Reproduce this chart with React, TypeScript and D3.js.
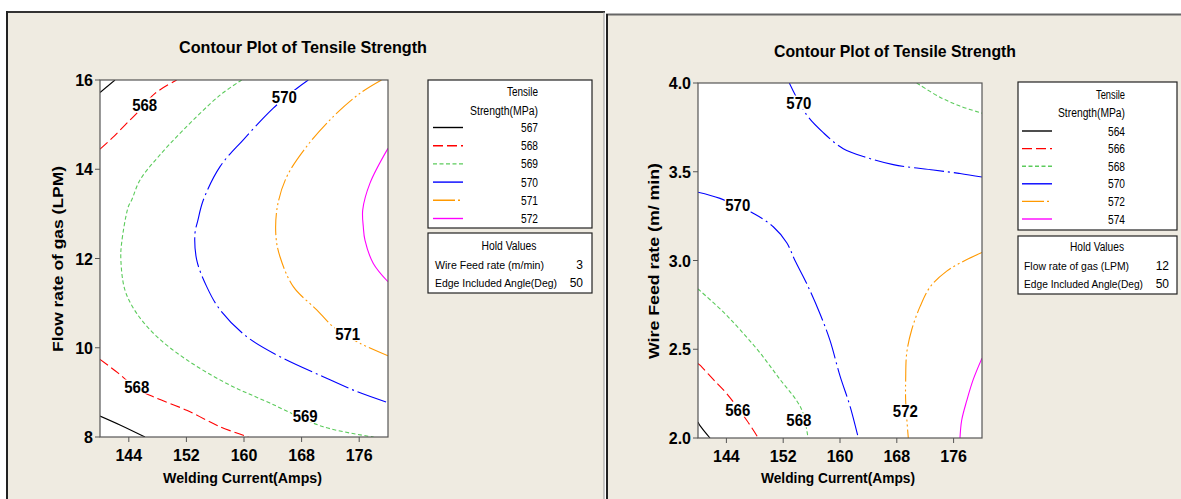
import React from 'react';
import * as d3 from 'd3';

// ---------- data ----------
const currentTicks = [144, 152, 160, 168, 176];
const flowTicks = [8, 10, 12, 14, 16];
const wireTicks = [2.0, 2.5, 3.0, 3.5, 4.0];
const leftLevels = [567, 568, 569, 570, 571, 572];
const rightLevels = [564, 566, 568, 570, 572, 574];
const levelColors = ['#000000', '#FF0000', '#5CCB5C', '#0000FF', '#FF9900', '#FF00FF'];
const levelDashes = ['none', '10,4', '4,2.5', '30,4,2,4', '22,3,2,3,2,3', 'none'];

// Left plot: Welding current vs flow rate of gas (hold wire feed 3, angle 50)
const L567a = [[140, 15.72], [142.08, 16]];
const L567b = [[140, 8.47], [142.78, 8.27], [146.25, 8]];
const L568a = [[140, 14.45], [141.63, 14.69], [143.47, 14.99], [145.1, 15.25], [147.64, 15.7], [150.65, 16]];
const L568b = [[140, 9.74], [142.54, 9.43], [145.1, 9.09], [147.4, 8.9], [152.04, 8.6], [156.67, 8.23], [160.6, 8.0]];
const L569 = [[159.68, 16], [156.67, 15.66], [151.57, 14.88], [148.1, 14.28], [145.56, 13.76], [144.4, 13.31], [143.93, 13.16], [143.0, 12.34], [142.9, 11.97], [143.47, 11.29], [145.1, 10.77], [147.9, 10.25], [152.04, 9.73], [157.6, 9.2], [163.6, 8.76], [171.0, 8.23], [178.0, 8.0]];
const L570 = [[168.93, 16], [167.32, 15.81], [164.07, 15.37], [159.9, 14.66], [156.67, 14.06], [154.35, 13.31], [153.6, 12.86], [153.19, 12.56], [153.43, 11.97], [154.82, 11.37], [156.67, 10.85], [160.37, 10.25], [165.0, 9.8], [171.0, 9.35], [175.65, 9.02], [180, 8.77]];
const L571 = [[179.1, 16], [176.1, 15.7], [172.4, 15.18], [168.7, 14.51], [165.93, 13.83], [164.63, 13.16], [164.44, 12.49], [165.0, 12.04], [166.85, 11.37], [170.1, 10.85], [172.4, 10.47], [176.1, 10.1], [180, 9.82]];
const L572 = [[180, 14.47], [177.5, 13.69], [176.49, 13.09], [176.57, 12.71], [176.8, 12.41], [177.96, 11.89], [180, 11.48]];

// Right plot: Welding current vs wire feed rate (hold flow 12, angle 50)
const R564 = [[140, 2.09], [140.28, 2.07], [141.69, 2.0]];
const R566 = [[140, 2.42], [140.28, 2.41], [142.15, 2.33], [144.04, 2.25], [146.86, 2.1], [148.49, 2.0]];
const R568a = [[140, 2.84], [140.28, 2.83], [143.56, 2.71], [145.92, 2.61], [148.73, 2.48], [151.55, 2.33], [153.9, 2.21], [154.8, 2.14], [155.5, 2.0]];
const R568b = [[170.8, 4.0], [174.08, 3.92], [176.9, 3.87], [180, 3.83]];
const R570a = [[152.86, 4.0], [155.31, 3.82], [157.65, 3.72], [160.46, 3.63], [163.76, 3.58], [167.5, 3.54], [173.14, 3.51], [176.9, 3.49], [180, 3.47]];
const R570b = [[140, 3.385], [143.1, 3.35], [148.03, 3.26], [150.6, 3.19], [152.5, 3.1], [153.66, 3.0], [155.31, 2.87], [157.18, 2.7], [158.59, 2.55], [160.0, 2.35], [161.41, 2.18], [162.58, 2.0]];
const R572 = [[180, 3.045], [177.6, 3.0], [175.03, 2.94], [172.68, 2.85], [171.27, 2.74], [170.1, 2.61], [169.4, 2.48], [169.25, 2.33], [169.25, 2.21], [169.62, 2.0]];
const R574 = [[180, 2.45], [178.77, 2.33], [177.85, 2.21], [177.14, 2.1], [176.9, 2.0]];

const leftLabels = [
  { level: 568, x: 146.2, y: 15.45 },
  { level: 570, x: 165.6, y: 15.62 },
  { level: 571, x: 174.4, y: 10.31 },
  { level: 568, x: 145.1, y: 9.13 },
  { level: 569, x: 168.5, y: 8.48 },
];
const rightLabels = [
  { level: 570, x: 154.2, y: 3.89 },
  { level: 570, x: 145.6, y: 3.31 },
  { level: 566, x: 145.6, y: 2.16 },
  { level: 568, x: 154.2, y: 2.1 },
  { level: 572, x: 169.2, y: 2.15 },
];

const leftHold = [['Wire Feed rate (m/min)', '3'], ['Edge Included Angle(Deg)', '50']];
const rightHold = [['Flow rate of gas (LPM)', '12'], ['Edge Included Angle(Deg)', '50']];

const FONT = "'Liberation Sans', Arial, sans-serif";
const BG = '#EFEBE1';

const panels = [
  {
    id: 'L',
    x0: 100, x1: 388, y0: 80, y1: 437,
    yDomain: [8, 16], yTicks: flowTicks, yFmt: d3.format('d'),
    contours: [
      { i: 0, pts: L567a }, { i: 0, pts: L567b }, { i: 1, pts: L568a }, { i: 1, pts: L568b },
      { i: 2, pts: L569 }, { i: 3, pts: L570 }, { i: 4, pts: L571 }, { i: 5, pts: L572 },
    ],
    labels: leftLabels,
    levels: leftLevels,
    hold: leftHold,
    title: { x: 303, y: 53, w: 248 },
    yTitle: { text: 'Flow rate of gas (LPM)', x: 58, y: 259, w: 186 },
    xTitle: { x: 242.5, y: 483, w: 159 },
    leg: { x0: 428, x1: 592, y0: 80, y1: 228, hy0: 233, hy1: 293, textR: 538, lx0: 433, lx1: 463, row0: 127.5, step: 18.2, t1: 96, t2: 115, hv: 249.5, h1: 268.5, h2: 286.5, valR: 583, holdL: 435, holdC: 509,
      wT: 31, wS: 68, wH: 55, wh: [109, 122] },
  },
  {
    id: 'R',
    x0: 698, x1: 982, y0: 83, y1: 438,
    yDomain: [2, 4], yTicks: wireTicks, yFmt: d3.format('.1f'),
    contours: [
      { i: 0, pts: R564 }, { i: 1, pts: R566 }, { i: 2, pts: R568a }, { i: 2, pts: R568b },
      { i: 3, pts: R570a }, { i: 3, pts: R570b }, { i: 4, pts: R572 }, { i: 5, pts: R574 },
    ],
    labels: rightLabels,
    levels: rightLevels,
    hold: rightHold,
    title: { x: 895, y: 57, w: 242 },
    yTitle: { text: 'Wire Feed rate (m/ min)', x: 654, y: 261, w: 196 },
    xTitle: { x: 838, y: 483, w: 154 },
    leg: { x0: 1018, x1: 1177, y0: 82, y1: 230, hy0: 236, hy1: 294, textR: 1125, lx0: 1022, lx1: 1052, row0: 131, step: 17.6, t1: 99, t2: 117, hv: 251, h1: 270, h2: 287.5, valR: 1169, holdL: 1024, holdC: 1097,
      wT: 29, wS: 67, wH: 54, wh: [105, 119] },
  },
];

function Panel({ p }: { p: any }) {
  const xs = d3.scaleLinear().domain([140, 180]).range([p.x0, p.x1]);
  const ys = d3.scaleLinear().domain(p.yDomain).range([p.y1, p.y0]);
  const line = d3
    .line<number[]>()
    .x((d) => xs(d[0]))
    .y((d) => ys(d[1]))
    .curve(d3.curveCatmullRom.alpha(0.5));
  const L = p.leg;
  const lt = { fontFamily: FONT, fontSize: 12, lengthAdjust: 'spacingAndGlyphs' as const };
  const ht = { fontFamily: FONT, fontSize: 11, lengthAdjust: 'spacingAndGlyphs' as const };
  return (
    <g>
      <defs>
        <clipPath id={'clip' + p.id}>
          <rect x={p.x0} y={p.y0} width={p.x1 - p.x0} height={p.y1 - p.y0} />
        </clipPath>
      </defs>
      <text x={p.title.x} y={p.title.y} textAnchor="middle" fontFamily={FONT} fontWeight="bold" fontSize={17}
        textLength={p.title.w} lengthAdjust="spacingAndGlyphs">Contour Plot of Tensile Strength</text>
      <rect x={p.x0} y={p.y0} width={p.x1 - p.x0} height={p.y1 - p.y0} fill="#FFFFFF" />
      <g clipPath={`url(#clip${p.id})`}>
        {p.contours.map((c: any, k: number) => (
          <path key={k} d={line(c.pts) || ''} fill="none" stroke={levelColors[c.i]} strokeWidth={1.1}
            strokeDasharray={levelDashes[c.i]} />
        ))}
        {p.labels.map((l: any, k: number) => (
          <g key={k}>
            <rect x={xs(l.x) - 13} y={ys(l.y) - 7} width={26} height={14} fill="#FFFFFF" />
            <text x={xs(l.x)} y={ys(l.y) + 6} textAnchor="middle" fontFamily={FONT} fontWeight="bold" fontSize={16}
              textLength={25} lengthAdjust="spacingAndGlyphs">{l.level}</text>
          </g>
        ))}
      </g>
      <rect x={p.x0} y={p.y0} width={p.x1 - p.x0} height={p.y1 - p.y0} fill="none" stroke="#555" strokeWidth={1.2} />
      {currentTicks.map((t) => (
        <g key={'x' + t}>
          <line x1={xs(t)} x2={xs(t)} y1={p.y1} y2={p.y1 + 5} stroke="#555" />
          <text x={xs(t)} y={p.y1 + 24} textAnchor="middle" fontFamily={FONT} fontWeight="bold" fontSize={16}>{t}</text>
        </g>
      ))}
      {p.yTicks.map((t: number) => (
        <g key={'y' + t}>
          <line x1={p.x0 - 5} x2={p.x0} y1={ys(t)} y2={ys(t)} stroke="#555" />
          <text x={p.x0 - 7} y={ys(t) + 6} textAnchor="end" fontFamily={FONT} fontWeight="bold" fontSize={16}>{p.yFmt(t)}</text>
        </g>
      ))}
      <text x={p.xTitle.x} y={p.xTitle.y} textAnchor="middle" fontFamily={FONT} fontWeight="bold" fontSize={15}
        textLength={p.xTitle.w} lengthAdjust="spacingAndGlyphs">Welding Current(Amps)</text>
      <text transform={`translate(${p.yTitle.x + 5},${p.yTitle.y}) rotate(-90)`} textAnchor="middle" fontFamily={FONT}
        fontWeight="bold" fontSize={15} textLength={p.yTitle.w} lengthAdjust="spacingAndGlyphs">{p.yTitle.text}</text>

      {/* legend */}
      <rect x={L.x0} y={L.y0} width={L.x1 - L.x0} height={L.y1 - L.y0} fill="#FFFFFF" stroke="#222" strokeWidth={1.2} />
      <text x={L.textR} y={L.t1} textAnchor="end" {...lt} textLength={L.wT}>Tensile</text>
      <text x={L.textR} y={L.t2} textAnchor="end" {...lt} textLength={L.wS}>Strength(MPa)</text>
      {p.levels.map((lv: number, i: number) => {
        const y = L.row0 + i * L.step;
        return (
          <g key={'lg' + lv}>
            <line x1={L.lx0} x2={L.lx1} y1={y} y2={y} stroke={levelColors[i]} strokeWidth={1.4}
              strokeDasharray={levelDashes[i]} />
            <text x={L.textR} y={y + 4.5} textAnchor="end" fontFamily={FONT} fontSize={12} textLength={17}
              lengthAdjust="spacingAndGlyphs">{lv}</text>
          </g>
        );
      })}
      <rect x={L.x0} y={L.hy0} width={L.x1 - L.x0} height={L.hy1 - L.hy0} fill="#FFFFFF" stroke="#222" strokeWidth={1.2} />
      <text x={L.holdC} y={L.hv} textAnchor="middle" {...lt} textLength={L.wH}>Hold Values</text>
      {p.hold.map((h: string[], i: number) => (
        <g key={'h' + i}>
          <text x={L.holdL} y={i === 0 ? L.h1 : L.h2} {...ht} textLength={L.wh[i]}>{h[0]}</text>
          <text x={L.valR} y={i === 0 ? L.h1 : L.h2} textAnchor="end" fontFamily={FONT} fontSize={12}>{h[1]}</text>
        </g>
      ))}
    </g>
  );
}

export default function App() {
  return (
    <svg width={1181} height={499} style={{ position: 'absolute', left: 0, top: 0, display: 'block' }}>
      <rect x={0} y={0} width={1181} height={499} fill="#FFFFFF" />
      {/* left panel */}
      <rect x={7} y={12} width={597} height={487} fill={BG} />
      <line x1={6} x2={605} y1={12} y2={12} stroke="#333" strokeWidth={2} />
      <line x1={7} x2={7} y1={11} y2={499} stroke="#222" strokeWidth={2} />
      <line x1={604} x2={604} y1={12} y2={499} stroke="#999" strokeWidth={1} />
      {/* right panel */}
      <rect x={606} y={14} width={575} height={485} fill={BG} />
      <line x1={606} x2={1181} y1={14.5} y2={14.5} stroke="#666" strokeWidth={2} />
      <line x1={607} x2={607} y1={14} y2={499} stroke="#222" strokeWidth={2} />
      {panels.map((p) => (
        <Panel key={p.id} p={p} />
      ))}
    </svg>
  );
}
